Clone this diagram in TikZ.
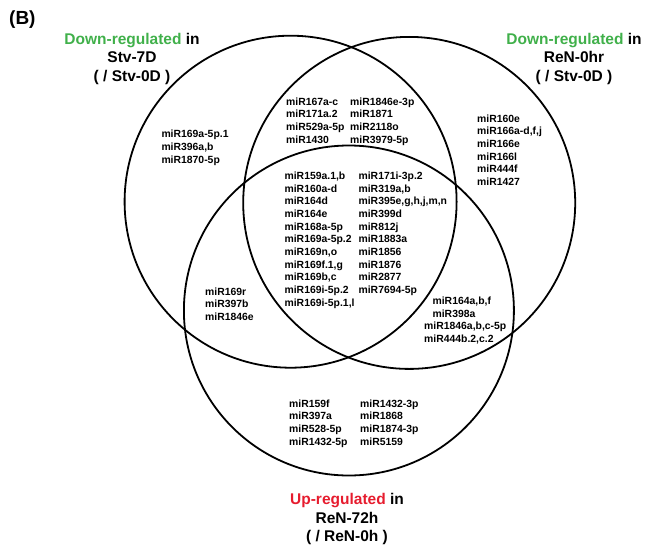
\documentclass[tikz,border=0pt]{standalone}
\usepackage{fontspec}
\setmainfont{Liberation Sans}
\definecolor{downgreen}{RGB}{64,176,74}
\definecolor{upred}{RGB}{230,28,46}
\begin{document}
\begin{tikzpicture}[x=1pt,y=-1pt,
  ring/.style={draw=black,line width=1.8pt},
  mirlist/.style={font=\bfseries\fontsize{10.4}{12.66}\selectfont,align=left,inner sep=0pt,anchor=north west},
  setlabel/.style={font=\bfseries\fontsize{15.5}{18.6}\selectfont,align=center,inner sep=0pt,anchor=north}]
\useasboundingbox (0,0) rectangle (652,551);

% the three sets
\draw[ring] (290.6,201.7) circle[radius=166pt];
\draw[ring] (409.2,202.9) circle[radius=166pt];
\draw[ring] (348.9,310.5) circle[radius=165pt];

% panel tag
\node[font=\bfseries\fontsize{19}{22}\selectfont,inner sep=0pt,anchor=west] (panel) at (9,20) {(B)};

% set titles
\node[setlabel] (labA) at (132,32.7) {\textcolor{downgreen}{Down-regulated} in\\Stv-7D\\( / Stv-0D )};
\node[setlabel] (labB) at (574,32.7) {\textcolor{downgreen}{Down-regulated} in\\ReN-0hr\\( / Stv-0D )};
\node[setlabel] (labC) at (347,493.2) {\textcolor{upred}{Up-regulated} in\\ReN-72h\\( / ReN-0h )};

% region contents
\node[mirlist] (onlyA) at (161.3,130.1) {miR169a-5p.1\\miR396a,b\\miR1870-5p};
\node[mirlist] (abL) at (286,97.5) {miR167a-c\\miR171a.2\\miR529a-5p\\miR1430};
\node[mirlist] (abR) at (350,97.5) {miR1846e-3p\\miR1871\\miR2118o\\miR3979-5p};
\node[mirlist] (onlyB) at (477,114.6) {miR160e\\miR166a-d,f,j\\miR166e\\miR166l\\miR444f\\miR1427};
\node[mirlist] (abcL) at (284.4,171.9) {miR159a.1,b\\miR160a-d\\miR164d\\miR164e\\miR168a-5p\\miR169a-5p.2\\miR169n,o\\miR169f.1,g\\miR169b,c\\miR169i-5p.2\\miR169i-5p.1,l};
\node[mirlist] (abcR) at (358.4,171.9) {miR171i-3p.2\\miR319a,b\\miR395e,g,h,j,m,n\\miR399d\\miR812j\\miR1883a\\miR1856\\miR1876\\miR2877\\miR7694-5p};
\node[mirlist] (ac) at (205,287.4) {miR169r\\miR397b\\miR1846e};
\node[mirlist] (bc) at (424,296.8) {\hspace*{8.4pt}miR164a,b,f\\\hspace*{8.4pt}miR398a\\miR1846a,b,c-5p\\miR444b.2,c.2};
\node[mirlist] (onlyCL) at (289,399.5) {miR159f\\miR397a\\miR528-5p\\miR1432-5p};
\node[mirlist] (onlyCR) at (360,399.5) {miR1432-3p\\miR1868\\miR1874-3p\\miR5159};
\end{tikzpicture}
\end{document}
